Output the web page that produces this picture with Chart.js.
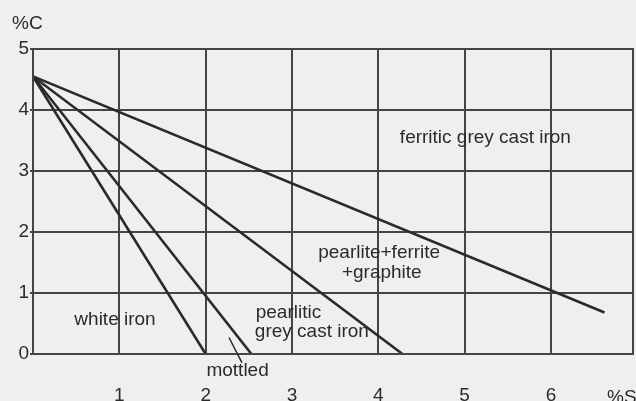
<!DOCTYPE html>
<html>
<head>
<meta charset="utf-8">
<script src="https://cdn.jsdelivr.net/npm/chart.js@4/dist/chart.umd.min.js"></script>
<style>
html,body{margin:0;padding:0;background:#efefef;}
#wrap{width:636px;height:401px;}
</style>
</head>
<body>
<div id="wrap"><canvas id="c" width="636" height="401"></canvas></div>
<script>
// Boundary lines of the Si-C cast iron structure diagram (all start at the same %C on the axis)
const boundaryNames = ['white / mottled', 'mottled / pearlitic', 'pearlitic / pearlite+ferrite', 'pearlite+ferrite / ferritic'];
const startSi = [0, 0, 0, 0];
const startC = [4.55, 4.55, 4.55, 4.55];
const endSi = [2.0, 2.53, 4.28, 6.62];
const endC = [0, 0, 0, 0.68];
const xTicks = [1, 2, 3, 4, 5, 6];
const yTicks = [0, 1, 2, 3, 4, 5];
const xAxisName = '%Si';
const yAxisName = '%C';
const regionLabels = ['ferritic grey cast iron', 'pearlite+ferrite', '+graphite', 'pearlitic', 'grey cast iron', 'white iron', 'mottled'];

const INK = '#2a2a2a';
const GRID = '#454545';
const TEXT = '#2b2b2b';
const FONT = '19px "Liberation Sans", Arial, sans-serif';

const datasets = boundaryNames.map((n, i) => ({
  label: n,
  data: [{x: startSi[i], y: startC[i]}, {x: endSi[i], y: endC[i]}],
  showLine: true,
  borderColor: INK,
  borderWidth: 2.6,
  pointRadius: 0,
  fill: false
}));

const annot = {
  id: 'annot',
  beforeDraw(chart) {
    const ctx = chart.ctx;
    ctx.save();
    ctx.fillStyle = '#efefef';
    ctx.fillRect(0, 0, chart.width, chart.height);
    ctx.restore();
  },
  afterDraw(chart) {
    const ctx = chart.ctx, xs = chart.scales.x, ys = chart.scales.y, a = chart.chartArea;
    const px = v => xs.getPixelForValue(v), py = v => ys.getPixelForValue(v);
    ctx.save();
    // frame
    ctx.strokeStyle = GRID; ctx.lineWidth = 2;
    ctx.strokeRect(a.left, a.top, a.right - a.left, a.bottom - a.top);
    ctx.fillStyle = TEXT;
    ctx.font = FONT;
    ctx.textBaseline = 'middle';
    // axis names
    ctx.textAlign = 'left';
    ctx.fillText(yAxisName, 12, 24);
    ctx.fillText(xAxisName, 607, 398);
    // region labels
    ctx.textAlign = 'center';
    ctx.fillText(regionLabels[0], px(5.24), py(3.54));
    ctx.fillText(regionLabels[1], px(4.01), py(1.66));
    ctx.fillText(regionLabels[2], px(4.04), py(1.33));
    ctx.textAlign = 'left';
    ctx.fillText(regionLabels[3], px(2.58), py(0.67));
    ctx.fillText(regionLabels[4], px(2.57), py(0.36));
    ctx.textAlign = 'center';
    ctx.fillText(regionLabels[5], px(0.95), py(0.56));
    ctx.fillText(regionLabels[6], px(2.37), py(-0.27));
    // leader line for "mottled"
    ctx.strokeStyle = INK; ctx.lineWidth = 1.5;
    ctx.beginPath();
    ctx.moveTo(px(2.27), py(0.27));
    ctx.lineTo(px(2.42), py(-0.14));
    ctx.stroke();
    ctx.restore();
  }
};

new Chart(document.getElementById('c'), {
  type: 'scatter',
  data: { datasets },
  plugins: [annot],
  options: {
    responsive: false,
    animation: false,
    layout: { padding: { top: 49, right: 3, left: 0, bottom: 0 } },
    plugins: { legend: { display: false }, tooltip: { enabled: false } },
    scales: {
      x: {
        type: 'linear', min: 0, max: 6.95,
        afterFit(s) { s.height = 47; },
        afterBuildTicks(s) { s.ticks = [0].concat(xTicks).map(v => ({value: v})); },
        ticks: {
          includeBounds: false,
          padding: 30,
          color: TEXT,
          font: { family: '"Liberation Sans", Arial, sans-serif', size: 19 },
          callback: v => (xTicks.includes(v) ? String(v) : ''),
          maxRotation: 0, autoSkip: false
        },
        grid: { color: GRID, lineWidth: 2, drawTicks: false },
        border: { color: GRID, width: 2 }
      },
      y: {
        type: 'linear', min: 0, max: 5,
        afterFit(s) { s.width = 33; },
        afterBuildTicks(s) { s.ticks = yTicks.map(v => ({value: v})); },
        ticks: {
          padding: 1,
          color: TEXT,
          font: { family: '"Liberation Sans", Arial, sans-serif', size: 19 },
          callback: v => String(v),
          autoSkip: false
        },
        grid: { color: GRID, lineWidth: 2, drawTicks: true, tickLength: 3 },
        border: { color: GRID, width: 2 }
      }
    }
  }
});
</script>
</body>
</html>
